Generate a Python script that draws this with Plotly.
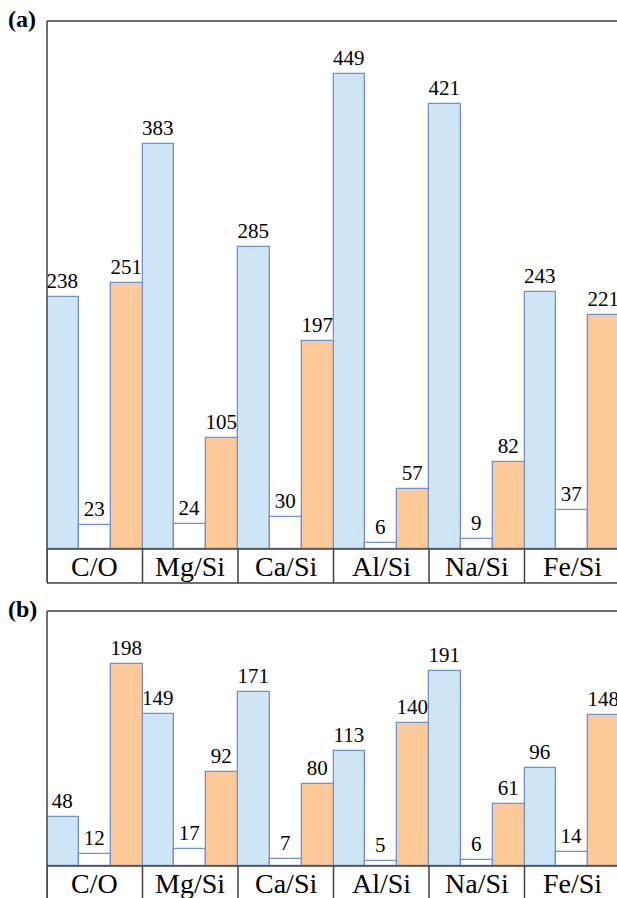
import plotly.graph_objects as go

categories = ["C/O", "Mg/Si", "Ca/Si", "Al/Si", "Na/Si", "Fe/Si"]
a_blue = [238, 383, 285, 449, 421, 243]
a_white = [23, 24, 30, 6, 9, 37]
a_orange = [251, 105, 197, 57, 82, 221]
b_blue = [48, 149, 171, 113, 191, 96]
b_white = [12, 17, 7, 5, 6, 14]
b_orange = [198, 92, 80, 140, 61, 148]

W, H = 617, 898
FONT = "Liberation Serif"
BLUE = "#cfe4f4"
WHITE = "#ffffff"
ORANGE = "#fdc998"
EDGE = "#7092cc"
FRAME = "#404040"

fig = go.Figure()

panels = [
    ("x", "y", [a_blue, a_white, a_orange]),
    ("x2", "y2", [b_blue, b_white, b_orange]),
]
for xa, ya, series in panels:
    for vals, col in zip(series, [BLUE, WHITE, ORANGE]):
        fig.add_trace(go.Bar(
            x=categories, y=vals, xaxis=xa, yaxis=ya,
            marker=dict(color=col, line=dict(color=EDGE, width=1.3)),
            text=[str(v) for v in vals], textposition="outside",
            textfont=dict(family=FONT, size=21, color="black"),
            constraintext="none", cliponaxis=False, showlegend=False,
        ))

def py(p):
    return 1 - p / H

# pixel layout
left_px = 47
a_top, a_base, a_row = 21, 549, 583
b_top, b_base, b_row = 611, 866, 900
cat_w = 95.5
xr = [-0.5, -0.5 + (W - left_px) / cat_w]

fig.update_layout(
    width=W, height=H, margin=dict(l=0, r=0, t=0, b=0),
    paper_bgcolor="white", plot_bgcolor="white",
    barmode="group", bargap=0, bargroupgap=0,
    xaxis=dict(domain=[left_px / W, 1], range=xr, showticklabels=False,
               showgrid=False, zeroline=False, showline=False, ticks=""),
    xaxis2=dict(domain=[left_px / W, 1], range=xr, showticklabels=False,
                showgrid=False, zeroline=False, showline=False, ticks="",
                anchor="y2"),
    yaxis=dict(domain=[py(a_base), py(a_top)], range=[0, 499], visible=False),
    yaxis2=dict(domain=[py(b_base), py(b_top)], range=[0, 250], visible=False,
                anchor="x2"),
)

shapes = []
annotations = []
line = dict(color=FRAME, width=1.5)
for xa, top, base, row, lab in [("x", a_top, a_base, a_row, "(a)"),
                                 ("x2", b_top, b_base, b_row, "(b)")]:
    # frame: left and top
    shapes.append(dict(type="line", xref="paper", yref="paper",
                       x0=left_px / W, x1=left_px / W, y0=py(row), y1=py(top), line=line))
    shapes.append(dict(type="line", xref="paper", yref="paper",
                       x0=left_px / W, x1=1.01, y0=py(top), y1=py(top), line=line))
    # table row horizontal lines
    for yy in (base, row):
        shapes.append(dict(type="line", xref="paper", yref="paper",
                           x0=left_px / W, x1=1.01, y0=py(yy), y1=py(yy), line=line))
    # vertical separators
    for i in range(len(categories) + 1):
        shapes.append(dict(type="line", xref=xa, yref="paper",
                           x0=i - 0.5, x1=i - 0.5, y0=py(row), y1=py(base), line=line))
    for i, c in enumerate(categories):
        annotations.append(dict(x=i, y=py((base + row) / 2), xref=xa, yref="paper",
                                text=c, showarrow=False,
                                font=dict(family=FONT, size=28, color="black"),
                                xanchor="center", yanchor="middle"))
    annotations.append(dict(x=22 / W, y=py(top - 2), xref="paper", yref="paper",
                            text="<b>" + lab + "</b>", showarrow=False,
                            font=dict(family=FONT, size=24, color="black"),
                            xanchor="center", yanchor="middle"))

fig.update_layout(shapes=shapes, annotations=annotations)
fig.write_html(
    "out.html",
    config={"displayModeBar": False},
    post_script="document.body.style.margin='0';document.body.style.overflow='hidden';",
)
